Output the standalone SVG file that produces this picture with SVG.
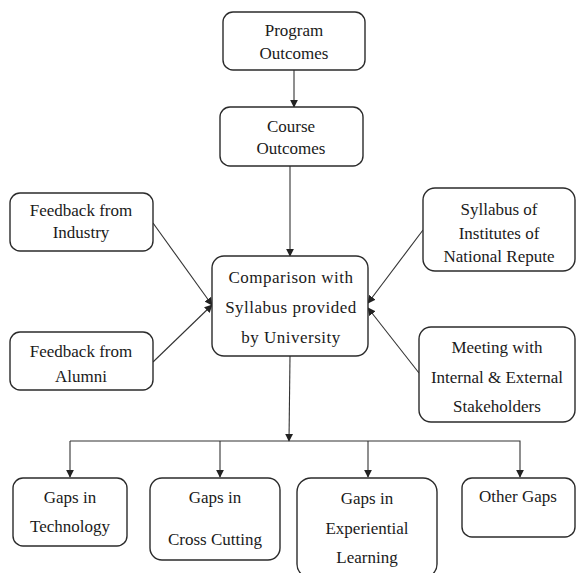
<svg xmlns="http://www.w3.org/2000/svg" width="577" height="573" viewBox="0 0 577 573">
  <style>
    .box { fill: #ffffff; stroke: #2b2b2b; stroke-width: 1.4; }
    .lbl { font-family: 'Liberation Serif', 'DejaVu Serif', 'Times New Roman', serif; font-size: 17px; fill: #1a1a1a; text-anchor: middle; }
    .wide { letter-spacing: 0.5px; }
    .edge { fill: none; stroke: #333333; stroke-width: 1.1; }
  </style>
  <defs>
    <marker id="arrow" viewBox="0 0 10 10" refX="9" refY="5" markerWidth="8" markerHeight="8" markerUnits="userSpaceOnUse" orient="auto">
      <path d="M0,0 L10,5 L0,10 z" fill="#222222"/>
    </marker>
  </defs>
  <rect width="577" height="573" fill="#ffffff"/>

  <g id="connectors">
    <line class="edge" x1="294" y1="70" x2="294" y2="107" marker-end="url(#arrow)"/>
    <line class="edge" x1="290" y1="166" x2="290" y2="256" marker-end="url(#arrow)"/>
    <line class="edge" x1="153" y1="223" x2="212" y2="305" marker-end="url(#arrow)"/>
    <line class="edge" x1="153" y1="362" x2="212" y2="305" marker-end="url(#arrow)"/>
    <line class="edge" x1="423" y1="230" x2="368" y2="303" marker-end="url(#arrow)"/>
    <line class="edge" x1="419" y1="373" x2="368" y2="308" marker-end="url(#arrow)"/>
    <line class="edge" x1="290" y1="356" x2="289" y2="441" marker-end="url(#arrow)"/>
    <polyline class="edge" points="70,441 520,441 520,477" marker-end="url(#arrow)"/>
    <line class="edge" x1="70" y1="441" x2="70" y2="477" marker-end="url(#arrow)"/>
    <line class="edge" x1="220" y1="441" x2="220" y2="477" marker-end="url(#arrow)"/>
    <line class="edge" x1="368" y1="441" x2="368" y2="477" marker-end="url(#arrow)"/>
  </g>

  <g id="program-outcomes">
    <rect class="box" x="223" y="12" width="142" height="58" rx="10"/>
    <text class="lbl" x="294" y="36">Program</text>
    <text class="lbl" x="294" y="59">Outcomes</text>
  </g>

  <g id="course-outcomes">
    <rect class="box" x="220" y="107" width="143" height="59" rx="10"/>
    <text class="lbl" x="291" y="132">Course</text>
    <text class="lbl" x="291" y="154">Outcomes</text>
  </g>

  <g id="feedback-industry">
    <rect class="box" x="10" y="193" width="143" height="58" rx="10"/>
    <text class="lbl" x="81" y="216">Feedback from</text>
    <text class="lbl" x="81" y="238">Industry</text>
  </g>

  <g id="feedback-alumni">
    <rect class="box" x="10" y="332" width="143" height="58" rx="10"/>
    <text class="lbl" x="81" y="357">Feedback from</text>
    <text class="lbl" x="81" y="382">Alumni</text>
  </g>

  <g id="comparison">
    <rect class="box" x="212" y="256" width="156" height="100" rx="12"/>
    <text class="lbl wide" x="291" y="283">Comparison with</text>
    <text class="lbl wide" x="291" y="313">Syllabus provided</text>
    <text class="lbl wide" x="291" y="343">by University</text>
  </g>

  <g id="national-repute">
    <rect class="box" x="423" y="188" width="152" height="83" rx="12"/>
    <text class="lbl" x="499" y="215">Syllabus of</text>
    <text class="lbl" x="499" y="239">Institutes of</text>
    <text class="lbl" x="499" y="262">National Repute</text>
  </g>

  <g id="stakeholders">
    <rect class="box" x="419" y="327" width="156" height="95" rx="12"/>
    <text class="lbl" x="497" y="353">Meeting with</text>
    <text class="lbl" x="497" y="383">Internal &amp; External</text>
    <text class="lbl" x="497" y="412">Stakeholders</text>
  </g>

  <g id="gaps-technology">
    <rect class="box" x="13" y="478" width="114" height="68" rx="10"/>
    <text class="lbl" x="70" y="503">Gaps in</text>
    <text class="lbl" x="70" y="532">Technology</text>
  </g>

  <g id="gaps-cross-cutting">
    <rect class="box" x="150" y="478" width="130" height="82" rx="12"/>
    <text class="lbl" x="215" y="503">Gaps in</text>
    <text class="lbl" x="215" y="545">Cross Cutting</text>
  </g>

  <g id="gaps-experiential">
    <rect class="box" x="297" y="478" width="140" height="100" rx="14"/>
    <text class="lbl" x="367" y="504">Gaps in</text>
    <text class="lbl" x="367" y="534">Experiential</text>
    <text class="lbl" x="367" y="563">Learning</text>
  </g>

  <g id="other-gaps">
    <rect class="box" x="462" y="478" width="113" height="59" rx="10"/>
    <text class="lbl" x="518" y="502">Other Gaps</text>
  </g>
</svg>
